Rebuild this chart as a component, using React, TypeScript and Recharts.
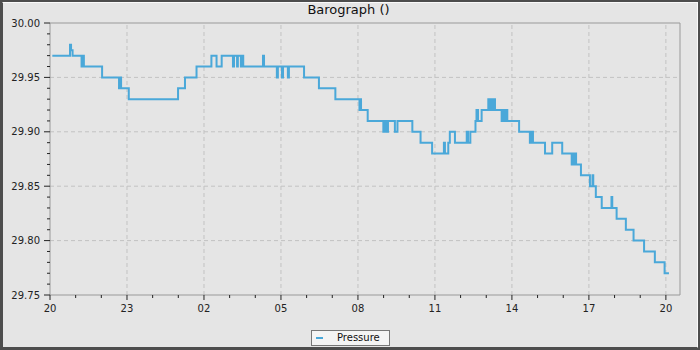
import React from 'react';
import { LineChart, Line, XAxis, YAxis, ReferenceLine, Legend } from 'recharts';

// hours elapsed since 20:00 on the first day
const hours = [
  0.09, 0.78, 0.82, 0.88, 1.23, 1.27, 1.32, 2.03, 2.69, 2.73, 2.77, 3.07,
  4.99, 5.26, 5.71, 6.29, 6.49, 6.69, 7.13, 7.17, 7.29, 7.32, 7.44, 7.48,
  7.53, 8.30, 8.34, 8.84, 8.88, 9.04, 9.08, 9.27, 9.31, 9.90, 10.48, 11.12,
  12.06, 12.08, 12.12, 12.38, 12.99, 13.03, 13.05, 13.09, 13.11, 13.17, 13.44, 13.54,
  14.12, 14.44, 14.89, 15.35, 15.39, 15.52, 15.58, 15.78, 16.24, 16.29, 16.38, 16.58,
  16.62, 16.68, 16.82, 17.08, 17.10, 17.12, 17.14, 17.16, 17.20, 17.22, 17.26, 17.28,
  17.34, 17.60, 17.63, 17.65, 17.68, 17.70, 17.77, 17.82, 18.28, 18.70, 18.74, 18.76,
  18.80, 18.82, 19.29, 19.57, 19.96, 20.33, 20.36, 20.38, 20.42, 20.44, 20.48, 20.50,
  20.55, 20.69, 21.04, 21.14, 21.17, 21.27, 21.50, 21.88, 21.91, 22.08, 22.44, 22.74,
  23.15, 23.57, 23.95, 24.12,
];
const pressure = [
  29.97, 29.98, 29.975, 29.97, 29.96, 29.97, 29.96, 29.95, 29.94, 29.95, 29.94, 29.93,
  29.94, 29.95, 29.96, 29.97, 29.96, 29.97, 29.96, 29.97, 29.96, 29.97, 29.96, 29.97,
  29.96, 29.97, 29.96, 29.95, 29.96, 29.95, 29.96, 29.95, 29.96, 29.95, 29.94, 29.93,
  29.92, 29.93, 29.92, 29.91, 29.90, 29.91, 29.90, 29.91, 29.90, 29.91, 29.90, 29.91,
  29.90, 29.89, 29.88, 29.89, 29.88, 29.89, 29.90, 29.89, 29.90, 29.89, 29.90, 29.91,
  29.92, 29.91, 29.92, 29.93, 29.92, 29.93, 29.92, 29.93, 29.92, 29.93, 29.92, 29.93,
  29.92, 29.91, 29.92, 29.91, 29.92, 29.91, 29.92, 29.91, 29.90, 29.89, 29.90, 29.89,
  29.90, 29.89, 29.88, 29.89, 29.88, 29.87, 29.88, 29.87, 29.88, 29.87, 29.88, 29.87,
  29.87, 29.86, 29.85, 29.86, 29.85, 29.84, 29.83, 29.84, 29.83, 29.82, 29.81, 29.80,
  29.79, 29.78, 29.77, 29.77,
];

const xTicks = [0, 1, 2, 3, 4, 5, 6, 7, 8, 9, 10, 11, 12, 13, 14, 15, 16, 17, 18, 19, 20, 21, 22, 23, 24];
const xMajorHours = [0, 3, 6, 9, 12, 15, 18, 21, 24];
const xMajorLabels = ['20', '23', '02', '05', '08', '11', '14', '17', '20'];

const yTicks = [
  29.75, 29.76, 29.77, 29.78, 29.79, 29.8, 29.81, 29.82, 29.83, 29.84, 29.85, 29.86, 29.87,
  29.88, 29.89, 29.9, 29.91, 29.92, 29.93, 29.94, 29.95, 29.96, 29.97, 29.98, 29.99, 30.0,
];
const yMajorTicks = [29.75, 29.8, 29.85, 29.9, 29.95, 30.0];

const data = hours.map((t, i) => ({ t, p: pressure[i] }));

const FONT = '"DejaVu Sans", Verdana, sans-serif';
const X_MAX = 24.55;

const YTick = (props: any) => {
  const { x, y, payload } = props;
  const v = payload.value;
  const major = yMajorTicks.some((m) => Math.abs(m - v) < 1e-6);
  return (
    <g>
      <line x1={x - (major ? 6 : 3)} x2={x} y1={y} y2={y} stroke="#222" strokeWidth={1} />
      {major && (
        <text x={x - 10} y={y} dy="0.36em" textAnchor="end" fontSize={10} fill="#222" fontFamily={FONT}>
          {v.toFixed(2)}
        </text>
      )}
    </g>
  );
};

const XTick = (props: any) => {
  const { x, y, payload } = props;
  const h = payload.value;
  const idx = xMajorHours.indexOf(h);
  const major = idx >= 0;
  return (
    <g>
      <line x1={x} x2={x} y1={y} y2={y + (major ? 5 : 3)} stroke="#222" strokeWidth={1} />
      {major && (
        <text x={x} y={y + 16.5} textAnchor="middle" fontSize={10} fill="#222" fontFamily={FONT}>
          {xMajorLabels[idx]}
        </text>
      )}
    </g>
  );
};

const LegendBox = (props: any) => {
  const items = props.payload || [];
  return (
    <div
      style={{
        border: '1px solid #777',
        background: '#f4f4f4',
        width: 77,
        height: 14,
        boxSizing: 'content-box',
        display: 'flex',
        alignItems: 'center',
        fontFamily: FONT,
        fontSize: 10,
        color: '#111',
      }}
    >
      {items.map((it: any) => (
        <React.Fragment key={it.value}>
          <span style={{ display: 'inline-block', width: 7, height: 2, background: it.color, marginLeft: 4 }} />
          <span style={{ marginLeft: 14, lineHeight: '14px' }}>{it.value}</span>
        </React.Fragment>
      ))}
    </div>
  );
};

export default function App() {
  return (
    <div style={{ position: 'absolute', left: 0, top: 0, width: 700, height: 350, background: '#e5e5e5' }}>
      <div
        style={{
          position: 'absolute',
          left: 0,
          top: 1.5,
          width: 697,
          textAlign: 'center',
          fontFamily: FONT,
          fontSize: 13,
          lineHeight: '16px',
          color: '#111',
        }}
      >
        Barograph ()
      </div>
      <LineChart
        width={700}
        height={350}
        data={data}
        margin={{ top: 23, right: 20, left: 5, bottom: 25 }}
        style={{ position: 'absolute', left: 0, top: 0 }}
      >
        {xMajorHours.slice(1).map((h) => (
          <ReferenceLine key={'vx' + h} x={h} stroke="#c2c2c2" strokeDasharray="4 3" />
        ))}
        {yMajorTicks.slice(1, -1).map((v) => (
          <ReferenceLine key={'hy' + v} y={v} stroke="#c2c2c2" strokeDasharray="4 3" />
        ))}
        <ReferenceLine y={30.0} stroke="#999" />
        <ReferenceLine x={X_MAX} stroke="#999" />
        <XAxis
          dataKey="t"
          type="number"
          domain={[0, X_MAX]}
          ticks={xTicks}
          interval={0}
          height={30}
          tickSize={0}
          tickMargin={0}
          tickLine={false}
          axisLine={{ stroke: '#999' }}
          tick={<XTick />}
          allowDataOverflow
        />
        <YAxis
          type="number"
          domain={[29.75, 30.0]}
          ticks={yTicks}
          interval={0}
          width={45}
          tickSize={0}
          tickMargin={0}
          tickLine={false}
          axisLine={{ stroke: '#999' }}
          tick={<YTick />}
          allowDataOverflow
        />
        <Legend
          layout="horizontal"
          verticalAlign="middle"
          align="center"
          content={<LegendBox />}
          wrapperStyle={{ position: 'absolute', left: 311, top: 330, width: 'auto', height: 'auto' }}
        />
        <Line
          name="Pressure"
          dataKey="p"
          type="stepAfter"
          stroke="#4aa8d9"
          strokeWidth={2}
          dot={false}
          activeDot={false}
          isAnimationActive={false}
        />
      </LineChart>
      <div
        style={{
          position: 'absolute',
          left: 0,
          top: 0,
          width: 700,
          height: 350,
          boxSizing: 'border-box',
          borderStyle: 'solid',
          borderColor: '#4d4d4d',
          borderWidth: 2,
          pointerEvents: 'none',
        }}
      >
        <div
          style={{
            width: '100%',
            height: '100%',
            boxSizing: 'border-box',
            borderTop: '1px solid #fafafa',
            borderRight: '1px solid #fafafa',
            borderLeft: '1px solid #4d4d4d',
            borderBottom: '1px solid #4d4d4d',
          }}
        />
      </div>
    </div>
  );
}
